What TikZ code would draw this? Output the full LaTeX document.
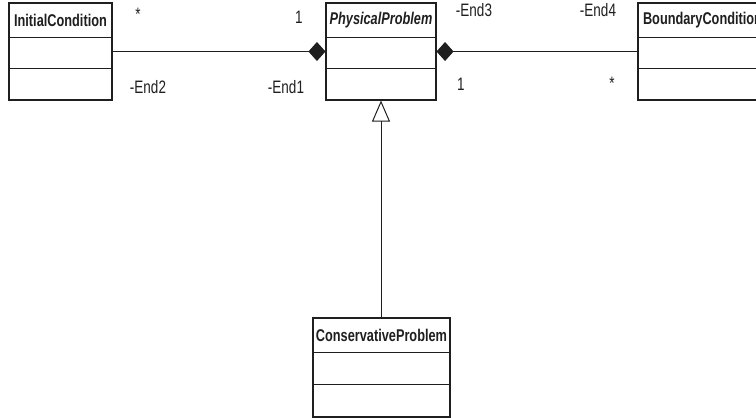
\documentclass[tikz,border=0pt]{standalone}
\usepackage{fontspec}
\newfontfamily\umlfont{Liberation Sans}[FakeStretch=0.75]
\usetikzlibrary{arrows.meta,calc}
\definecolor{ink}{gray}{0.12}
\tikzset{
  cls/.style={draw=ink, line width=1.1pt, rectangle, inner sep=0pt, minimum height=97pt},
  title/.style={inner sep=0pt, text=ink, font=\umlfont\fontsize{17}{20}\selectfont\bfseries},
  ititle/.style={title, font=\umlfont\fontsize{17}{20}\selectfont\bfseries\itshape},
  lbl/.style={inner sep=0pt, text=ink, font=\umlfont\fontsize{18}{21}\selectfont},
  conn/.style={draw=ink, line width=1pt},
  comp/.style={-{Diamond[length=17pt,width=19pt]}},
  gen/.style={-{Triangle[open,length=21pt,width=18pt,fill=white]}},
  divider/.style={draw=ink, line width=1.1pt}
}
\begin{document}
\begin{tikzpicture}[x=1pt,y=-1pt]
\useasboundingbox (0,0) rectangle (756,418);
\clip (0,0) rectangle (756,418);
\fill[white] (0,0) rectangle (756,418);
% classes
\node[cls, minimum width=103pt] (ic) at (60.5,51.5) {};
\node[cls, minimum width=110pt] (pp) at (381,51.5) {};
\node[cls, minimum width=129pt] (bc) at (702.5,51.5) {};
\node[cls, minimum width=137pt, minimum height=99pt] (cp) at (381.5,367.5) {};
% titles
\node[title] (ict) at (60.5,20.5) {InitialCondition};
\node[ititle] (ppt) at (381,20.5) {PhysicalProblem};
\node[title] (bct) at (702.5,20.5) {BoundaryCondition};
\node[title] (cpt) at (381.5,335.5) {ConservativeProblem};
% dividers
\foreach \n in {ic,pp,bc}{
  \draw[divider] ([yshift=-35pt]\n.north west) -- ([yshift=-35pt]\n.north east);
  \draw[divider] ([yshift=-66pt]\n.north west) -- ([yshift=-66pt]\n.north east);
}
\draw[divider] ([yshift=-35pt]cp.north west) -- ([yshift=-35pt]cp.north east);
\draw[divider] ([yshift=-67pt]cp.north west) -- ([yshift=-67pt]cp.north east);
% connectors
\draw[conn, comp] (ic.east) -- (pp.west);
\draw[conn, comp] (bc.west) -- (pp.east);
\draw[conn, gen] (cp.north -| pp.south) -- (pp.south);
% labels
\node[lbl] (s1) at (138,14) {*};
\node[lbl] (o1) at (299,17) {1};
\node[lbl] (e2) at (148,87) {-End2};
\node[lbl] (e1) at (286,87) {-End1};
\node[lbl] (e3) at (474,10) {-End3};
\node[lbl] (e4) at (598,10) {-End4};
\node[lbl] (o2) at (461,84) {1};
\node[lbl] (s2) at (612,83) {*};
\end{tikzpicture}
\end{document}
